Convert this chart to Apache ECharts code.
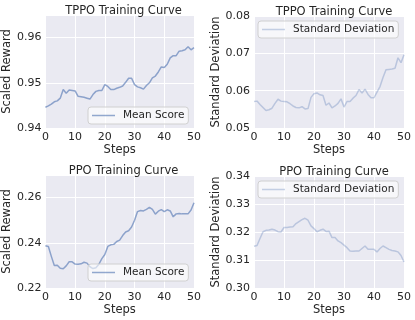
<!DOCTYPE html>
<html>
<head>
<meta charset="utf-8">
<script src="https://cdn.jsdelivr.net/npm/echarts@6/dist/echarts.min.js"></script>
<style>
  html, body { margin: 0; padding: 0; background: #fff; }
  #chart { width: 415px; height: 320px; }
</style>
</head>
<body>
<div id="chart"></div>
<script>
const steps = Array.from({ length: 51 }, (_, i) => i);

const tppoMean = [
  0.9446, 0.9449, 0.9453, 0.9458, 0.9460, 0.9466, 0.9485, 0.9477, 0.9484, 0.9483,
  0.9482, 0.9470, 0.9469, 0.9468, 0.9466, 0.9464, 0.9474, 0.9481, 0.9483, 0.9483,
  0.9496, 0.9492, 0.9485, 0.9485, 0.9488, 0.9490, 0.9493, 0.9501, 0.9510, 0.9510,
  0.9496, 0.9491, 0.9489, 0.9486, 0.9494, 0.9500, 0.9511, 0.9515, 0.9524, 0.9535,
  0.9534, 0.9541, 0.9555, 0.9560, 0.9560, 0.9570, 0.9571, 0.9573, 0.9580, 0.9573,
  0.9578
];
const tppoStd = [
  0.0571, 0.0572, 0.0563, 0.0555, 0.0547, 0.0549, 0.0553, 0.0566, 0.0577, 0.0572,
  0.0571, 0.0570, 0.0565, 0.0559, 0.0555, 0.0554, 0.0557, 0.0551, 0.0552, 0.0582,
  0.0592, 0.0594, 0.0589, 0.0587, 0.0561, 0.0567, 0.0554, 0.0559, 0.0566, 0.0578,
  0.0556, 0.0571, 0.0571, 0.0580, 0.0587, 0.0603, 0.0594, 0.0604, 0.0590, 0.0581,
  0.0581, 0.0596, 0.0611, 0.0635, 0.0656, 0.0657, 0.0658, 0.0660, 0.0688, 0.0675,
  0.0696
];
const ppoMean = [
  0.2387, 0.2384, 0.2340, 0.2300, 0.2301, 0.2287, 0.2285, 0.2298, 0.2316, 0.2316,
  0.2306, 0.2305, 0.2307, 0.2314, 0.2310, 0.2294, 0.2286, 0.2290, 0.2305, 0.2330,
  0.2348, 0.2384, 0.2391, 0.2393, 0.2406, 0.2412, 0.2432, 0.2448, 0.2453, 0.2470,
  0.2500, 0.2538, 0.2543, 0.2541, 0.2548, 0.2557, 0.2548, 0.2527, 0.2540, 0.2547,
  0.2538, 0.2546, 0.2541, 0.2515, 0.2528, 0.2530, 0.2528, 0.2528, 0.2528, 0.2545,
  0.2577
];
const ppoStd = [
  0.3149, 0.3152, 0.3177, 0.3201, 0.3206, 0.3207, 0.3210, 0.3207, 0.3201, 0.3200,
  0.3216, 0.3216, 0.3218, 0.3219, 0.3230, 0.3237, 0.3244, 0.3249, 0.3242, 0.3222,
  0.3212, 0.3201, 0.3206, 0.3210, 0.3202, 0.3203, 0.3180, 0.3180, 0.3168, 0.3162,
  0.3153, 0.3144, 0.3132, 0.3131, 0.3132, 0.3132, 0.3141, 0.3150, 0.3138, 0.3138,
  0.3138, 0.3129, 0.3141, 0.3150, 0.3144, 0.3138, 0.3134, 0.3132, 0.3129, 0.3116,
  0.3093
];

const titles = ["TPPO Training Curve", "TPPO Training Curve", "PPO Training Curve", "PPO Training Curve"];
const yNames = ["Scaled Reward", "Standard Deviation", "Scaled Reward", "Standard Deviation"];
const seriesNames = ["Mean Score", "Standard Deviation", "Mean Score", "Standard Deviation"];
const yRanges = [[0.94, 0.965, 0.01], [0.05, 0.08, 0.01], [0.22, 0.27, 0.02], [0.30, 0.34, 0.01]];
const xTicks = [0, 50, 10];

// layout per panel (pixels)
const panels = [
  { grid: { left: 43, top: 15, width: 151, height: 113 }, values: tppoMean, legend: { left: 88, top: 107 }, nameGap: 23, alpha: 0.6 },
  { grid: { left: 254, top: 16, width: 150, height: 112 }, values: tppoStd, legend: { left: 258, top: 21 }, nameGap: 27, alpha: 0.3 },
  { grid: { left: 43, top: 175, width: 151, height: 113 }, values: ppoMean, legend: { left: 88, top: 264 }, nameGap: 23, alpha: 0.6 },
  { grid: { left: 254, top: 176, width: 150, height: 112 }, values: ppoStd, legend: { left: 258, top: 181 }, nameGap: 27, alpha: 0.3 },
];

const font = "DejaVu Sans";
const textColor = "#262626";

const chart = echarts.init(document.getElementById("chart"), null, { renderer: "canvas" });

chart.setOption({
  animation: false,
  backgroundColor: "#fff",
  textStyle: { fontFamily: font },
  title: panels.map((p, i) => ({
    text: titles[i],
    left: p.grid.left + p.grid.width / 2,
    top: p.grid.top - 15,
    textAlign: "center",
    textStyle: { fontFamily: font, fontSize: 11.5, fontWeight: "normal", color: textColor },
  })),
  grid: panels.map((p) => ({ ...p.grid, backgroundColor: "#EAEAF2", show: true, borderWidth: 0 })),
  xAxis: panels.map((p, i) => ({
    type: "value",
    gridIndex: i,
    min: xTicks[0],
    max: xTicks[1],
    interval: xTicks[2],
    name: "Steps",
    nameLocation: "middle",
    nameGap: 16,
    nameTextStyle: { fontFamily: font, fontSize: 11.5, color: textColor },
    axisLine: { show: false },
    axisTick: { show: false },
    axisLabel: { fontFamily: font, fontSize: 11, color: textColor, margin: 4 },
    splitLine: { lineStyle: { color: "#fff", width: 1 } },
  })),
  yAxis: panels.map((p, i) => ({
    type: "value",
    gridIndex: i,
    min: yRanges[i][0],
    max: yRanges[i][1],
    interval: yRanges[i][2],
    name: yNames[i],
    nameLocation: "middle",
    nameGap: p.nameGap,
    nameTextStyle: { fontFamily: font, fontSize: 11.5, color: textColor },
    axisLine: { show: false },
    axisTick: { show: false },
    axisLabel: {
      fontFamily: font,
      fontSize: 11,
      color: textColor,
      margin: 4,
      showMaxLabel: i === 1 || i === 3,
      formatter: (v) => v.toFixed(2),
    },
    splitLine: { lineStyle: { color: "#fff", width: 1 } },
  })),
  legend: panels.map((p, i) => ({
    data: [seriesNames[i]],
    left: p.legend.left,
    top: p.legend.top,
    icon: "rect",
    itemWidth: 23,
    itemHeight: 1.5,
    padding: [3, 4, 3, 4],
    backgroundColor: "rgba(255,255,255,0.6)",
    borderColor: "#d0d0d0",
    borderWidth: 1,
    borderRadius: 3,
    selectedMode: false,
    itemStyle: { color: "#4C72B0", opacity: p.alpha },
    textStyle: { fontFamily: font, fontSize: 10.5, color: textColor, padding: [0, 0, 0, 3] },
  })),
  series: panels.map((p, i) => ({
    name: seriesNames[i],
    type: "line",
    xAxisIndex: i,
    yAxisIndex: i,
    symbol: "none",
    data: steps.map((s, k) => [s, p.values[k]]),
    lineStyle: { color: "#4C72B0", width: 1.5, opacity: p.alpha },
    itemStyle: { color: "#4C72B0", opacity: p.alpha },
  })),
});
</script>
</body>
</html>
